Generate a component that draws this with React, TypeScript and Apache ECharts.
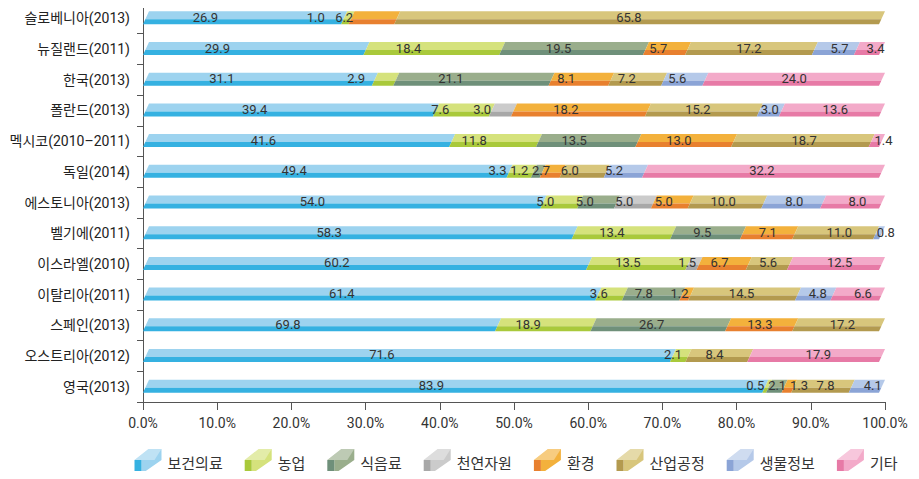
import React, { useEffect, useRef } from "react";
import * as echarts from "echarts";

const countries = [
  "슬로베니아(2013)",
  "뉴질랜드(2011)",
  "한국(2013)",
  "폴란드(2013)",
  "멕시코(2010–2011)",
  "독일(2014)",
  "에스토니아(2013)",
  "벨기에(2011)",
  "이스라엘(2010)",
  "이탈리아(2011)",
  "스페인(2013)",
  "오스트리아(2012)",
  "영국(2013)",
];

const categories = ["보건의료", "농업", "식음료", "천연자원", "환경", "산업공정", "생물정보", "기타"];

const health = [26.9, 29.9, 31.1, 39.4, 41.6, 49.4, 54.0, 58.3, 60.2, 61.4, 69.8, 71.6, 83.9];
const agri = [1.0, 18.4, 2.9, 7.6, 11.8, 3.3, 5.0, 13.4, 13.5, 3.6, 18.9, 2.1, 0.5];
const food = [0, 19.5, 21.1, 0, 13.5, 1.2, 5.0, 9.5, 0, 7.8, 26.7, 0, 2.1];
const natural = [0, 0, 0, 3.0, 0, 0, 5.0, 0, 1.5, 0, 0, 0, 0];
const env = [6.2, 5.7, 8.1, 18.2, 13.0, 2.7, 5.0, 7.1, 6.7, 1.2, 13.3, 0, 1.3];
const industry = [65.8, 17.2, 7.2, 15.2, 18.7, 6.0, 10.0, 11.0, 5.6, 14.5, 17.2, 8.4, 7.8];
const bio = [0, 5.7, 5.6, 3.0, 0, 5.2, 8.0, 0.8, 0, 4.8, 0, 0, 4.1];
const etc = [0, 3.4, 24.0, 13.6, 1.4, 32.2, 8.0, 0, 12.5, 6.6, 0, 17.9, 0];

const seriesValues = [health, agri, food, natural, env, industry, bio, etc];

const lightColors = ["#9dd3ef", "#d5e27c", "#9aae8c", "#cbcbcb", "#f3b13c", "#d8c67c", "#b5c9e9", "#f3aac9"];
const darkColors = ["#35b1e1", "#a9c93b", "#6f907a", "#a8a8a8", "#e8802f", "#b39a4f", "#8ba4d6", "#e77aa6"];

const SKEW = 6;
const BAR_TOP = 7;
const BAR_SPLIT = 1;
const BAR_BOT = 6;
const LABEL_FONT = "13px Roboto";

export default function App() {
  const ref = useRef<HTMLDivElement>(null);

  useEffect(() => {
    if (!ref.current) return;
    const chart = echarts.init(ref.current, null, { renderer: "svg" });

    const canvas = document.createElement("canvas");
    const ctx = canvas.getContext("2d")!;

    // stacked percentage segments
    const totals = countries.map((_, i) => seriesValues.reduce((s, arr) => s + arr[i], 0));
    const segs: any[][] = seriesValues.map(() => []);
    const rowLabels: { s: number; e: number; v: number }[][] = countries.map(() => []);
    countries.forEach((_, i) => {
      let acc = 0;
      seriesValues.forEach((arr, j) => {
        const v = arr[i];
        if (v > 0) {
          const pct = (v / totals[i]) * 100;
          segs[j].push([acc, acc + pct, i, v]);
          rowLabels[i].push({ s: acc, e: acc + pct, v });
          acc += pct;
        }
      });
    });

    const geom = (api: any, row: number) => {
      const p0 = api.coord([0, row]);
      const p100 = api.coord([100, row]);
      return { X0: p0[0], W: p100[0] - p0[0], cy: p0[1] };
    };

    const fs = (BAR_BOT - BAR_SPLIT) / (BAR_BOT + BAR_TOP);

    const series: any[] = categories.map((name, j) => ({
      type: "custom",
      name,
      data: segs[j],
      encode: { x: [0, 1], y: 2 },
      z: 2,
      renderItem: (params: any, api: any) => {
        const s = api.value(0);
        const e = api.value(1);
        const row = api.value(2);
        const { X0, W, cy } = geom(api, row);
        const bx = (v: number) => X0 + (v / 100) * (W - SKEW);
        const x0 = bx(s);
        const x1 = bx(e);
        const yT = cy - BAR_TOP;
        const yS = cy + BAR_SPLIT;
        const yB = cy + BAR_BOT;
        return {
          type: "group",
          children: [
            {
              type: "polygon",
              shape: {
                points: [
                  [x0 + SKEW, yT],
                  [x1 + SKEW, yT],
                  [x1 + SKEW * fs, yS],
                  [x0 + SKEW * fs, yS],
                ],
              },
              style: { fill: lightColors[j] },
            },
            {
              type: "polygon",
              shape: {
                points: [
                  [x0 + SKEW * fs, yS],
                  [x1 + SKEW * fs, yS],
                  [x1, yB],
                  [x0, yB],
                ],
              },
              style: { fill: darkColors[j] },
            },
          ],
        };
      },
    }));

    ctx.font = LABEL_FONT;
    series.push({
      type: "custom",
      name: "labels",
      data: countries.map((_, i) => [0, i]),
      encode: { x: 0, y: 1 },
      z: 10,
      renderItem: (params: any, api: any) => {
        const row = api.value(1);
        const { X0, W, cy } = geom(api, row);
        const items = rowLabels[row].map((l) => {
          const text = l.v.toFixed(1);
          return {
            text,
            w: ctx.measureText(text).width,
            x: X0 - 44 + (((l.s + l.e) / 2) / 100) * (W + 48),
          };
        });
        // relax overlapping neighbours
        for (let it = 0; it < 30; it++) {
          let moved = false;
          for (let k = 1; k < items.length; k++) {
            const a = items[k - 1];
            const b = items[k];
            const need = (a.w + b.w) / 2 + 1;
            const gap = b.x - a.x;
            if (gap < need) {
              const d = (need - gap) / 2;
              a.x -= d;
              b.x += d;
              moved = true;
            }
          }
          if (!moved) break;
        }
        return {
          type: "group",
          children: items.map((t) => ({
            type: "text",
            x: t.x,
            y: cy - 1,
            style: {
              text: t.text,
              fill: "#333",
              font: LABEL_FONT,
              align: "center",
              verticalAlign: "middle",
            },
          })),
        };
      },
    });

    // legend built as graphics
    const legendFont = "15px 'Noto Sans CJK KR'";
    ctx.font = legendFont;
    const ICON_W = 27;
    const ICON_GAP = 6;
    const ITEM_GAP = 22;
    const widths = categories.map((c) => ctx.measureText(c).width);
    const totalW =
      widths.reduce((s, w) => s + ICON_W + ICON_GAP + w, 0) + ITEM_GAP * (categories.length - 1);
    const centerX = 516;
    let cx = centerX - totalW / 2;
    const legendY = 449;
    const legendChildren: any[] = [];
    categories.forEach((c, j) => {
      legendChildren.push({
        type: "polygon",
        x: cx,
        y: legendY,
        shape: {
          points: [
            [0, 11],
            [14, 0],
            [27, 0],
            [27, 11],
            [7, 25],
            [7, 11],
          ],
        },
        style: { fill: lightColors[j] },
      });
      legendChildren.push({
        type: "polygon",
        x: cx,
        y: legendY,
        shape: {
          points: [
            [0, 11],
            [14, 0],
            [27, 0],
            [20, 11],
          ],
        },
        style: { fill: "rgba(255,255,255,0.35)" },
      });
      legendChildren.push({
        type: "rect",
        x: cx,
        y: legendY,
        shape: { x: 0, y: 11, width: 7, height: 14 },
        style: { fill: darkColors[j] },
      });
      legendChildren.push({
        type: "text",
        x: cx + ICON_W + ICON_GAP,
        y: legendY + 13,
        style: {
          text: c,
          font: legendFont,
          fill: "#333",
          verticalAlign: "middle",
        },
      });
      cx += ICON_W + ICON_GAP + widths[j] + ITEM_GAP;
    });

    chart.setOption({
      animation: false,
      grid: { left: 143, right: 34, top: 3, bottom: 77, containLabel: false },
      xAxis: {
        type: "value",
        min: 0,
        max: 100,
        interval: 10,
        axisLine: { show: true, lineStyle: { color: "#555", width: 1 } },
        axisTick: { show: true, length: 8, lineStyle: { color: "#555" } },
        splitLine: { show: false },
        axisLabel: {
          margin: 14,
          color: "#333",
          fontSize: 14,
          fontFamily: "Roboto",
          formatter: (v: number) => v.toFixed(1) + "%",
        },
      },
      yAxis: {
        type: "category",
        data: countries,
        inverse: true,
        axisLine: { show: true, lineStyle: { color: "#555", width: 1 } },
        axisTick: { show: true, length: 6, lineStyle: { color: "#555" } },
        axisLabel: {
          margin: 13,
          color: "#222",
          fontSize: 14,
          fontFamily: "Roboto, 'Noto Sans CJK KR'",
        },
      },
      graphic: [{ type: "group", children: legendChildren }],
      series,
    });

    return () => chart.dispose();
  }, []);

  return <div ref={ref} style={{ width: 919, height: 479, margin: -8 }} />;
}
